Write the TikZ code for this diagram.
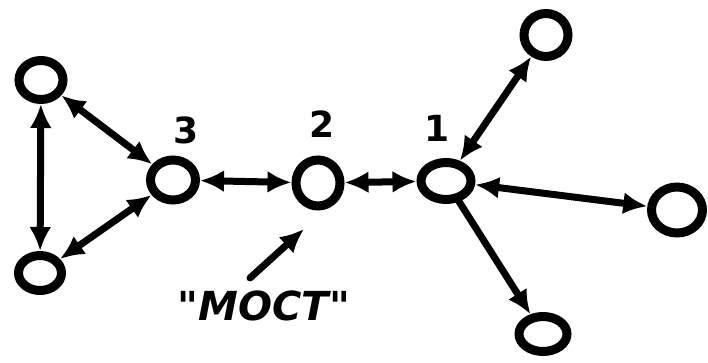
\documentclass[tikz,border=0pt]{standalone}
\usepackage{fontspec}
\newfontfamily\handfont{DejaVu Sans}
\usetikzlibrary{shapes.geometric,arrows.meta}
\begin{document}
\begin{tikzpicture}[x=1pt,y=-1pt,
  vtx/.style={draw=black, line width=9pt, ellipse, inner sep=0pt},
  con/.style={line width=7pt, line cap=round, draw=black},
  both/.style={con, {Latex[length=24pt,width=22pt]}-{Latex[length=24pt,width=22pt]}},
  one/.style={con, -{Latex[length=24pt,width=22pt]}},
  lbl/.style={font=\handfont\bfseries\fontsize{36}{38}\selectfont}
]
\useasboundingbox (0,0) rectangle (708,363);
\node[vtx, minimum width=44pt, minimum height=39pt] (tl) at (41,80) {};
\node[vtx, minimum width=43pt, minimum height=35pt] (bl) at (40,273) {};
\node[vtx, minimum width=45pt, minimum height=40pt] (n3) at (173,180) {};
\node[vtx, minimum width=44pt, minimum height=46pt] (n2) at (318,183) {};
\node[vtx, minimum width=50pt, minimum height=37pt] (n1) at (446,181) {};
\node[vtx, minimum width=44pt, minimum height=43pt] (tr) at (546,35) {};
\node[vtx, minimum width=51pt, minimum height=46pt] (r) at (677,210) {};
\node[vtx, minimum width=48pt, minimum height=35pt] (br) at (543,334) {};
\node[lbl] (l3) at (186,130) {3};
\node[lbl] (l2) at (322,124) {2};
\node[lbl] (l1) at (437,128) {1};
\node[font=\handfont\bfseries\itshape\fontsize{40}{42}\selectfont] (most) at (264,306) {"МОСТ"};
\coordinate (a1) at (250,278);
\coordinate (a2) at (304,229);
\draw[both] (tl) -- (n3);
\draw[both] (tl) -- (bl);
\draw[both] (bl) -- (n3);
\draw[both] (n3) -- (n2);
\draw[both] (n2) -- (n1);
\draw[both] (n1) -- (tr);
\draw[both] (n1) -- (r);
\draw[one] (n1) -- (br);
\draw[one] (a1) -- (a2);
\end{tikzpicture}
\end{document}
